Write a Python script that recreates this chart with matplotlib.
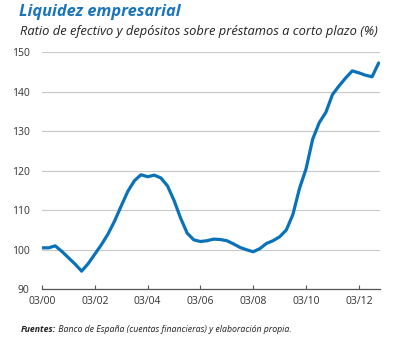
import matplotlib
matplotlib.use("Agg")
import matplotlib.pyplot as plt
import numpy as np

# Quarterly data, 2000Q1 .. 2012Q4
ratio = [100.5, 100.5, 101.0, 99.6, 98.0, 96.4, 94.6, 96.5,
         98.9, 101.3, 104.0, 107.3, 111.1, 114.8, 117.5, 119.0,
         118.5, 118.9, 118.2, 116.2, 112.5, 108.0, 104.2, 102.5,
         102.1, 102.3, 102.7, 102.6, 102.3, 101.5, 100.6, 100.0,
         99.5, 100.3, 101.6, 102.3, 103.3, 105.0, 108.9, 115.5,
         120.5, 128.0, 132.2, 134.8, 139.3, 141.5, 143.5, 145.3,
         144.8, 144.2, 143.8, 147.3]
tick_labels = ["03/00", "03/02", "03/04", "03/06", "03/08", "03/10", "03/12"]
y_ticks = [90, 100, 110, 120, 130, 140, 150]

title = "Liquidez empresarial"
subtitle = "Ratio de efectivo y depósitos sobre préstamos a corto plazo (%)"
source_bold = "Fuentes:"
source_rest = " Banco de España (cuentas financieras) y elaboración propia."

FONT = "Open Sans"
blue = "#0a72b9"

fig = plt.figure(figsize=(3.99, 3.38), dpi=100)
ax = fig.add_axes([42/399, 48.7/338, 338/399, 237/338])

x = np.arange(len(ratio))
ax.plot(x, ratio, color=blue, lw=2.3, solid_capstyle="round", solid_joinstyle="round", zorder=3)

ax.set_xlim(0, 51.2)
ax.set_ylim(90, 150)
ax.set_yticks(y_ticks)
ax.set_xticks(np.arange(0, len(ratio), 8))
ax.set_xticklabels(tick_labels)
ax.grid(axis="y", color="#c8c8c8", lw=0.8)
ax.set_axisbelow(True)
for s in ["top", "right", "left"]:
    ax.spines[s].set_visible(False)
ax.spines["bottom"].set_color("#555555")
ax.spines["bottom"].set_linewidth(0.9)
ax.tick_params(axis="x", direction="in", length=3, width=0.8, color="#555555",
               labelsize=7.5, labelcolor="#333333", pad=5)
ax.tick_params(axis="y", length=0, labelsize=7.5, labelcolor="#333333", pad=9)
for lab in ax.get_xticklabels() + ax.get_yticklabels():
    lab.set_fontfamily(FONT)

fig.text(19/399, 1 - 16/338, title, fontsize=11.8, fontweight="bold", fontstyle="italic",
         color="#1b75bc", family=FONT, va="baseline")
fig.text(20/399, 1 - 35/338, subtitle, fontsize=9.3, fontstyle="italic",
         color="#222222", family=FONT, va="baseline")

t1 = fig.text(20.5/399, 1 - 332/338, source_bold, fontsize=6.3, fontweight="bold",
              fontstyle="italic", color="#222222", family=FONT, va="baseline")
fig.canvas.draw()
bb = t1.get_window_extent()
fig.text(bb.x1 / fig.bbox.width, 1 - 332/338, source_rest, fontsize=6.3,
         fontstyle="italic", color="#222222", family=FONT, va="baseline")

fig.savefig("out.png", dpi=100)
